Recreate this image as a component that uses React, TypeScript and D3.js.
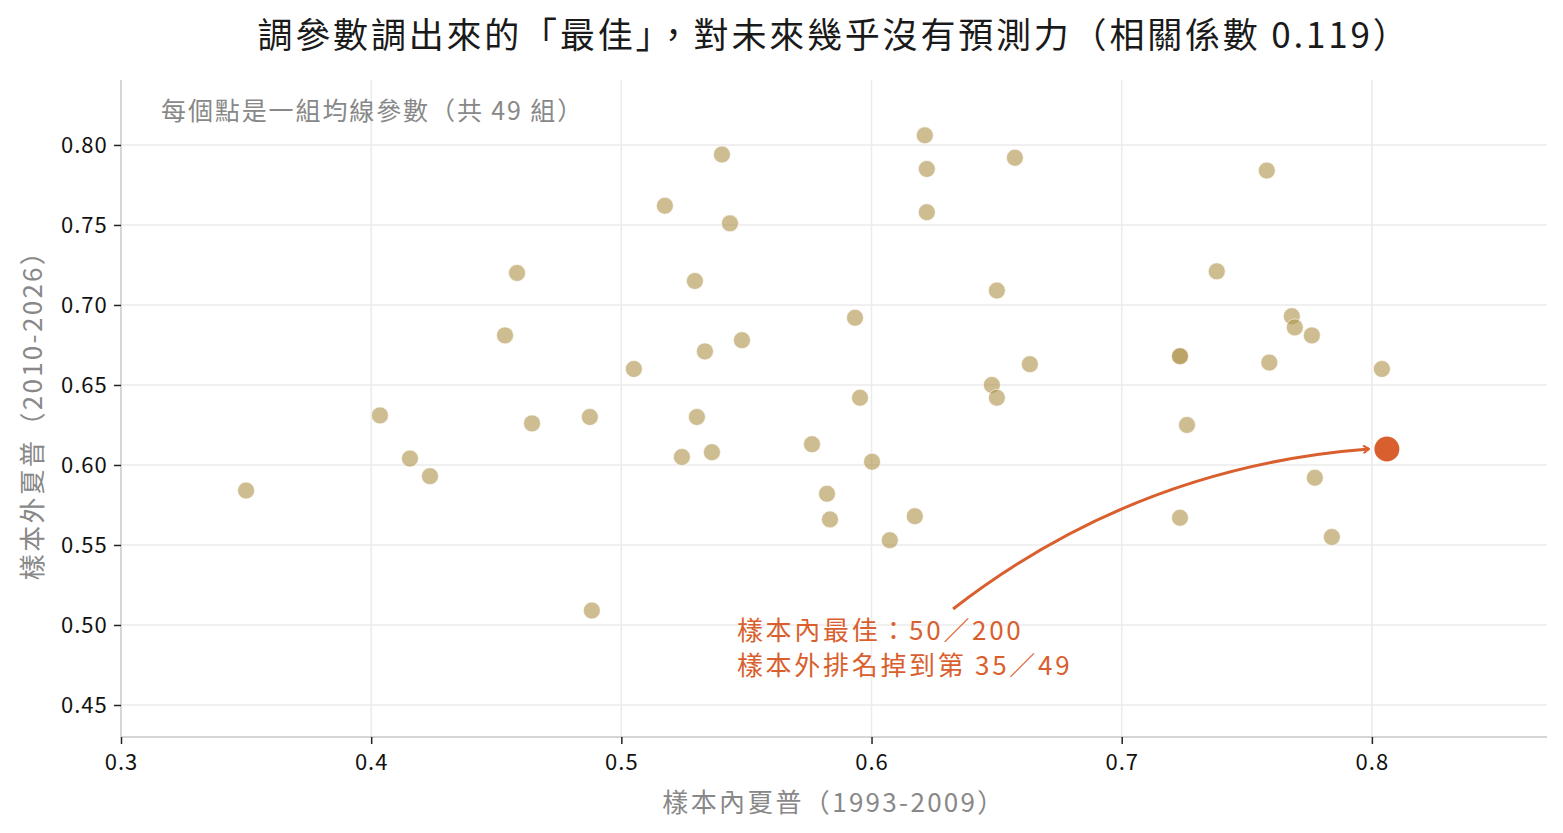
import { useEffect, useRef } from 'react';
import * as d3 from 'd3';

// in-sample Sharpe (1993-2009) for each MA parameter set
const inSample = [
  0.350, 0.4035, 0.4155, 0.4235, 0.4535, 0.4583, 0.4643, 0.4874, 0.4882, 0.505,
  0.5174, 0.5242, 0.5294, 0.5302, 0.5334, 0.5362, 0.5402, 0.5434, 0.5482, 0.5762,
  0.5822, 0.5834, 0.5934, 0.5954, 0.6002, 0.6073, 0.6173, 0.6213, 0.6221, 0.6221,
  0.6481, 0.6501, 0.6501, 0.6573, 0.6633, 0.7233, 0.7233, 0.7233, 0.7261, 0.738,
  0.758, 0.768, 0.7692, 0.759, 0.776, 0.7772, 0.784, 0.804,
];
// out-of-sample Sharpe (2010-2026)
const outSample = [
  0.584, 0.631, 0.604, 0.593, 0.681, 0.720, 0.626, 0.630, 0.509, 0.660,
  0.762, 0.605, 0.715, 0.630, 0.671, 0.608, 0.794, 0.751, 0.678, 0.613,
  0.582, 0.566, 0.692, 0.642, 0.602, 0.553, 0.568, 0.806, 0.785, 0.758,
  0.650, 0.709, 0.642, 0.792, 0.663, 0.668, 0.668, 0.567, 0.625, 0.721,
  0.784, 0.693, 0.686, 0.664, 0.681, 0.592, 0.555, 0.660,
];
// the in-sample winner (50 / 200)
const bestIn = 0.806;
const bestOut = 0.610;

const yTicks = [0.45, 0.5, 0.55, 0.6, 0.65, 0.7, 0.75, 0.8];
const xTicks = [0.3, 0.4, 0.5, 0.6, 0.7, 0.8];

const title = '調參數調出來的「最佳」，對未來幾乎沒有預測力（相關係數 0.119）';
const subtitle = '每個點是一組均線參數（共 49 組）';
const xLabel = '樣本內夏普（1993-2009）';
const yLabel = '樣本外夏普（2010-2026）';
const noteLines = ['樣本內最佳：50／200', '樣本外排名掉到第 35／49'];

const W = 1563;
const H = 833;
const margin = { top: 80, right: 16, bottom: 96, left: 121 };
const FONT = '"Noto Sans CJK TC", "Noto Sans", sans-serif';
const ACCENT = '#d9602e';

export default function App() {
  const svgRef = useRef<SVGSVGElement>(null);

  useEffect(() => {
    if (!svgRef.current) return;
    const svg = d3.select(svgRef.current);
    svg.selectAll('*').remove();

    const x = d3.scaleLinear().domain([0.3, 0.87]).range([margin.left, W - margin.right]);
    const y = d3.scaleLinear().domain([0.43, 0.8406]).range([H - margin.bottom, margin.top]);

    // grid
    const grid = svg.append('g');
    grid.selectAll('line.gx')
      .data(xTicks.slice(1))
      .join('line')
      .attr('x1', (d) => x(d)).attr('x2', (d) => x(d))
      .attr('y1', margin.top).attr('y2', H - margin.bottom)
      .attr('stroke', '#ebebeb').attr('stroke-width', 1.5);
    grid.selectAll('line.gy')
      .data(yTicks)
      .join('line')
      .attr('x1', margin.left).attr('x2', W - margin.right)
      .attr('y1', (d) => y(d)).attr('y2', (d) => y(d))
      .attr('stroke', '#ebebeb').attr('stroke-width', 1.5);

    // axes
    const xAxis = svg.append('g')
      .attr('transform', `translate(0,${H - margin.bottom})`)
      .call(d3.axisBottom(x).tickValues(xTicks).tickFormat(d3.format('.1f')).tickSize(7).tickSizeOuter(0));
    const yAxis = svg.append('g')
      .attr('transform', `translate(${margin.left},0)`)
      .call(d3.axisLeft(y).tickValues(yTicks).tickFormat(d3.format('.2f')).tickSize(7).tickSizeOuter(0));
    [xAxis, yAxis].forEach((g) => {
      g.select('.domain').attr('stroke', '#c8c8c8').attr('stroke-width', 1.5);
      g.selectAll('.tick line').attr('stroke', '#222').attr('stroke-width', 1.5);
      g.selectAll('.tick text')
        .style('font-family', FONT)
        .style('font-size', '22px')
        .style('letter-spacing', '1px')
        .attr('fill', '#111');
    });
    xAxis.selectAll('.tick text').attr('dy', '1.05em');
    yAxis.selectAll('.tick text').attr('dx', '-0.15em');
    // spines span the whole plot area
    yAxis.select('.domain').attr('d', `M0,${H - margin.bottom}V${margin.top}`);
    xAxis.select('.domain').attr('d', `M${margin.left},0H${W - margin.right}`);

    // points
    svg.append('g')
      .selectAll('circle')
      .data(inSample.map((v, i) => [v, outSample[i]]))
      .join('circle')
      .attr('cx', (d) => x(d[0]))
      .attr('cy', (d) => y(d[1]))
      .attr('r', 8.5)
      .attr('fill', '#af9149')
      .attr('fill-opacity', 0.6)
      .attr('stroke', '#fff')
      .attr('stroke-opacity', 0.6)
      .attr('stroke-width', 1);

    // annotation arrow (quadratic curve from text to the winner)
    const p0: [number, number] = [x(0.6326), y(0.51)];
    const p2: [number, number] = [x(bestIn) - 18, y(bestOut)];
    const mx = (p0[0] + p2[0]) / 2;
    const my = (p0[1] + p2[1]) / 2;
    const dx = p2[0] - p0[0];
    const dy = p2[1] - p0[1];
    const len = Math.hypot(dx, dy);
    const bend = 0.15 * len;
    const c: [number, number] = [mx + (dy / len) * bend, my - (dx / len) * bend];
    const path = d3.path();
    path.moveTo(p0[0], p0[1]);
    path.quadraticCurveTo(c[0], c[1], p2[0], p2[1]);
    svg.append('path')
      .attr('d', path.toString())
      .attr('fill', 'none')
      .attr('stroke', ACCENT)
      .attr('stroke-width', 3);
    // arrow head barbs
    const ang = Math.atan2(p2[1] - c[1], p2[0] - c[0]);
    const headLen = 6;
    [-0.6, 0.6].forEach((a) => {
      svg.append('line')
        .attr('x1', p2[0]).attr('y1', p2[1])
        .attr('x2', p2[0] - headLen * Math.cos(ang + a))
        .attr('y2', p2[1] - headLen * Math.sin(ang + a))
        .attr('stroke', ACCENT)
        .attr('stroke-width', 2)
        .attr('stroke-linecap', 'round');
    });

    // highlighted winner
    svg.append('circle')
      .attr('cx', x(bestIn))
      .attr('cy', y(bestOut))
      .attr('r', 13.5)
      .attr('fill', ACCENT)
      .attr('stroke', '#fff')
      .attr('stroke-width', 2);

    // annotation text
    svg.append('text')
      .attr('x', x(0.5462))
      .attr('y', y(0.4905))
      .style('font-family', FONT)
      .style('font-size', '26px')
      .style('letter-spacing', '2.7px')
      .attr('fill', ACCENT)
      .selectAll('tspan')
      .data(noteLines)
      .join('tspan')
      .attr('x', x(0.5462))
      .attr('dy', (_, i) => (i === 0 ? 0 : 35))
      .text((d) => d);

    // subtitle inside plot
    svg.append('text')
      .attr('x', 161)
      .attr('y', 120)
      .style('font-family', FONT)
      .style('font-size', '25px')
      .style('letter-spacing', '1.9px')
      .attr('fill', '#888')
      .text(subtitle);

    // title
    svg.append('text')
      .attr('x', 834)
      .attr('y', 48)
      .attr('text-anchor', 'middle')
      .style('font-family', FONT)
      .style('font-size', '35px')
      .style('letter-spacing', '2.8px')
      .attr('fill', '#1a1a1a')
      .text(title);

    // axis labels
    svg.append('text')
      .attr('x', (margin.left + W - margin.right) / 2)
      .attr('y', 812)
      .attr('text-anchor', 'middle')
      .style('font-family', FONT)
      .style('font-size', '26px')
      .style('letter-spacing', '2.3px')
      .attr('fill', '#888')
      .text(xLabel);
    svg.append('text')
      .attr('transform', `translate(42,${(margin.top + H - margin.bottom) / 2}) rotate(-90)`)
      .attr('text-anchor', 'middle')
      .style('font-family', FONT)
      .style('font-size', '26px')
      .style('letter-spacing', '2.3px')
      .attr('fill', '#888')
      .text(yLabel);
  }, []);

  return (
    <div style={{ position: 'fixed', left: 0, top: 0, background: '#fff' }}>
      <svg ref={svgRef} width={W} height={H} style={{ display: 'block' }} />
    </div>
  );
}
